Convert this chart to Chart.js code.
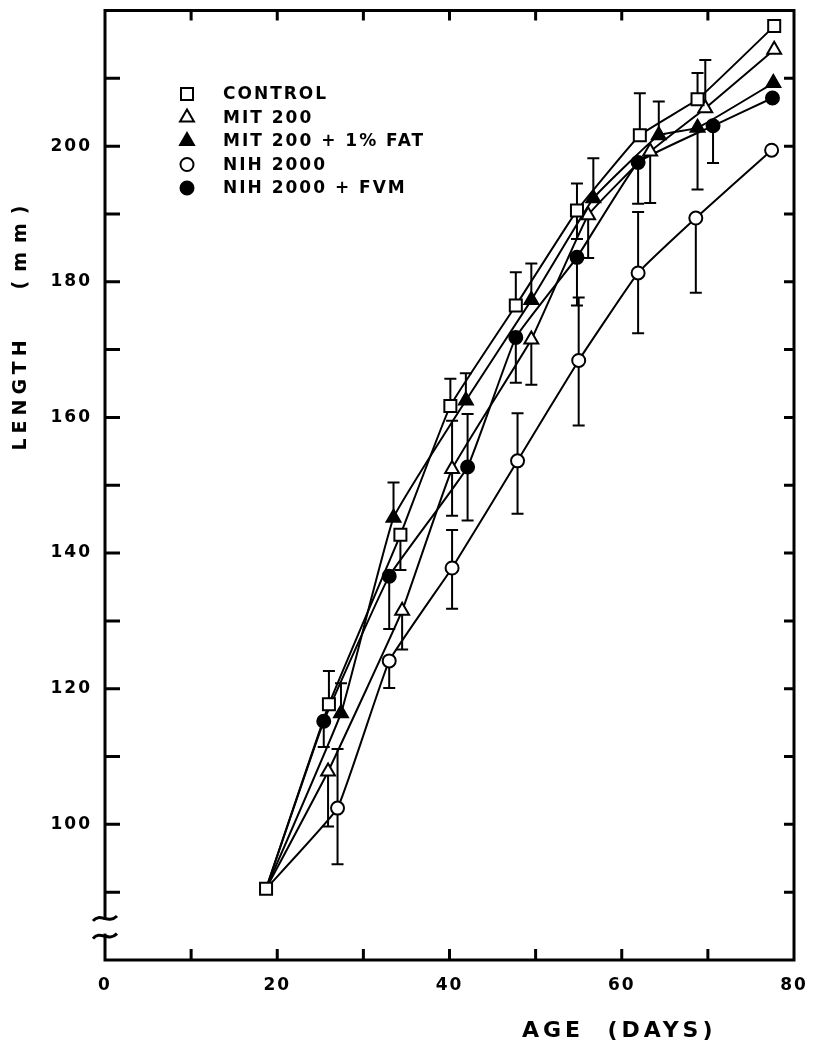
<!DOCTYPE html>
<html lang="en">
<head>
<meta charset="UTF-8">
<title>Length vs Age</title>
<style>
    html, body { margin: 0; padding: 0; background: #fff; }
    #chart { display: block; }
</style>
</head>
<body>
<canvas id="chart" width="813" height="1056"></canvas>
<script src="https://cdn.jsdelivr.net/npm/chart.js"></script>
<script>
// values: age (days), length (mm), error bar ends (mm)
var controlAge = [18.7, 26.0, 34.3, 40.1, 47.7, 54.8, 62.1, 68.8, 77.7];
var controlLen = [90.5, 117.7, 142.7, 161.7, 176.5, 190.5, 201.6, 206.9, 217.7];
var controlHi  = [null, 122.6, null, 165.7, 181.4, 194.5, 207.8, 210.8, null];
var controlLo  = [null, null, 137.5, null, null, 186.3, null, null, null];

var mitAge = [18.7, 25.9, 34.5, 40.3, 49.5, 56.1, 63.3, 69.7, 77.7];
var mitLen = [90.5, 107.8, 131.5, 152.4, 171.5, 189.8, 199.2, 205.6, 214.2];
var mitHi  = [null, null, null, 159.5, null, null, null, 212.7, null];
var mitLo  = [null, 99.7, 125.8, 145.5, 164.8, 183.5, 191.6, null, null];

var mitFatAge = [18.7, 27.4, 33.5, 41.9, 49.5, 56.7, 64.3, 68.8, 77.6];
var mitFatLen = [90.5, 116.4, 145.2, 162.5, 177.3, 192.3, 201.6, 202.7, 209.3];
var mitFatHi  = [null, 120.8, 150.4, 166.5, 182.7, 198.2, 206.6, null, null];
var mitFatLo  = [null, null, null, null, null, null, null, 193.6, null];

var nihAge = [18.7, 27.0, 33.0, 40.3, 47.9, 55.0, 61.9, 68.6, 77.4];
var nihLen = [90.5, 102.4, 124.1, 137.8, 153.6, 168.4, 181.3, 189.4, 199.4];
var nihHi  = [null, 111.1, null, 143.4, 160.6, 177.7, 190.3, null, null];
var nihLo  = [null, 94.1, 120.1, 131.8, 145.8, 158.8, 172.4, 178.4, null];

var fvmAge = [18.7, 25.4, 33.0, 42.1, 47.7, 54.8, 61.9, 70.6, 77.5];
var fvmLen = [90.5, 115.2, 136.6, 152.7, 171.8, 183.6, 197.6, 203.0, 207.1];
var fvmHi  = [null, null, null, 160.5, null, null, null, null, null];
var fvmLo  = [null, 111.4, 128.8, 144.8, 165.1, 176.5, 191.5, 197.5, null];

var legendLabels = ['CONTROL', 'MIT 200', 'MIT 200 + 1% FAT', 'NIH 2000', 'NIH 2000 + FVM'];
var xTickLabels = [0, 20, 40, 60, 80];
var yTickLabels = [100, 120, 140, 160, 180, 200];

var FONT = '"DejaVu Sans", "Liberation Sans", sans-serif';

var markers = [
    { style: 'rect', radius: 8.5, fill: '#fff' },
    { style: 'triangle', radius: 8, fill: '#fff' },
    { style: 'triangle', radius: 8, fill: '#000' },
    { style: 'circle', radius: 6.5, fill: '#fff' },
    { style: 'circle', radius: 6.5, fill: '#000' }
];

var errHi = [controlHi, mitHi, mitFatHi, nihHi, fvmHi];
var errLo = [controlLo, mitLo, mitFatLo, nihLo, fvmLo];

function makeSeries(i, ages, lens) {
    var m = markers[i];
    return {
        label: legendLabels[i],
        data: ages.map(function (a, k) { return { x: a, y: lens[k] }; }),
        borderColor: '#000',
        borderWidth: 2,
        tension: 0.1,
        pointStyle: m.style,
        pointRadius: function (ctx) { return (ctx.dataIndex === 0 && i !== 0) ? 0 : m.radius; },
        pointHoverRadius: m.radius,
        pointBackgroundColor: m.fill,
        pointBorderColor: '#000',
        pointBorderWidth: 2
    };
}

function drawMarker(ctx, m, x, y) {
    ctx.save();
    ctx.fillStyle = m.fill;
    ctx.strokeStyle = '#000';
    ctx.lineWidth = 2;
    ctx.beginPath();
    if (m.style === 'rect') {
        var s = m.radius * Math.SQRT1_2;
        ctx.rect(x - s, y - s, 2 * s, 2 * s);
    } else if (m.style === 'triangle') {
        for (var k = 0; k < 3; k++) {
            var a = k * 2 * Math.PI / 3;
            var px = x + Math.sin(a) * m.radius, py = y - Math.cos(a) * m.radius;
            if (k === 0) ctx.moveTo(px, py); else ctx.lineTo(px, py);
        }
        ctx.closePath();
    } else {
        ctx.arc(x, y, m.radius, 0, Math.PI * 2);
    }
    ctx.fill();
    ctx.stroke();
    ctx.restore();
}

function noPad(s) {
    s.paddingTop = 0; s.paddingBottom = 0; s.paddingLeft = 0; s.paddingRight = 0;
}

var spacing = {
    id: 'spacing',
    beforeDraw: function (chart) { chart.ctx.letterSpacing = '2px'; }
};

var errorBars = {
    id: 'errorBars',
    beforeDatasetsDraw: function (chart) {
        var ctx = chart.ctx, xs = chart.scales.x, ys = chart.scales.y;
        ctx.save();
        ctx.strokeStyle = '#000';
        ctx.lineWidth = 2;
        chart.data.datasets.forEach(function (ds, i) {
            ds.data.forEach(function (p, k) {
                var px = xs.getPixelForValue(p.x), py = ys.getPixelForValue(p.y);
                [errHi[i][k], errLo[i][k]].forEach(function (v) {
                    if (v === null) return;
                    var ey = ys.getPixelForValue(v);
                    ctx.beginPath();
                    ctx.moveTo(px, py);
                    ctx.lineTo(px, ey);
                    ctx.moveTo(px - 6, ey);
                    ctx.lineTo(px + 6, ey);
                    ctx.stroke();
                });
            });
        });
        ctx.restore();
    }
};

var frame = {
    id: 'frame',
    afterDraw: function (chart) {
        var ctx = chart.ctx, a = chart.chartArea, xs = chart.scales.x, ys = chart.scales.y;
        ctx.save();
        ctx.strokeStyle = '#000';
        ctx.lineWidth = 3;
        ctx.strokeRect(a.left, a.top, a.right - a.left, a.bottom - a.top);
        ctx.beginPath();
        for (var v = 10; v < 80; v += 10) {
            var x = xs.getPixelForValue(v);
            ctx.moveTo(x, a.bottom); ctx.lineTo(x, a.bottom - 11);
            ctx.moveTo(x, a.top); ctx.lineTo(x, a.top + 10);
        }
        for (var w = 90; w < 220; w += 10) {
            var y = ys.getPixelForValue(w);
            ctx.moveTo(a.left, y); ctx.lineTo(a.left + 15, y);
            ctx.moveTo(a.right, y); ctx.lineTo(a.right - 10, y);
        }
        ctx.stroke();

        // axis break on the left axis
        var b1 = ys.getPixelForValue(86.2), b2 = ys.getPixelForValue(83.6);
        ctx.fillStyle = '#fff';
        ctx.fillRect(a.left - 3, b1 + 2, 6, b2 - b1 - 4);
        [b1, b2].forEach(function (by) {
            ctx.beginPath();
            ctx.moveTo(a.left - 12, by + 3);
            ctx.bezierCurveTo(a.left - 5, by - 6, a.left + 3, by + 7, a.left + 12, by - 2);
            ctx.stroke();
        });

        // legend
        ctx.letterSpacing = '2px';
        ctx.fillStyle = '#000';
        ctx.font = 'bold 17px ' + FONT;
        ctx.textBaseline = 'middle';
        ctx.textAlign = 'left';
        legendLabels.forEach(function (lab, i) {
            var ly = 94 + i * 23.5;
            drawMarker(ctx, markers[i], 187, ly);
            ctx.fillText(lab, 223, ly + 1);
        });

        // axis titles
        ctx.font = 'bold 22px ' + FONT;
        ctx.letterSpacing = '4px';
        ctx.fillText('AGE  (DAYS)', 522, 1031);

        ctx.font = 'bold 19px ' + FONT;
        ctx.translate(21, 0);
        ctx.rotate(-Math.PI / 2);
        ctx.textAlign = 'center';
        ctx.letterSpacing = '5px';
        ctx.fillText('LENGTH', -393, 0);
        ctx.letterSpacing = '9px';
        ctx.fillText('(mm)', -243, 0);
        ctx.restore();
    }
};

var ctx = document.getElementById('chart').getContext('2d');
new Chart(ctx, {
    type: 'line',
    data: {
        datasets: [
            makeSeries(0, controlAge, controlLen),
            makeSeries(1, mitAge, mitLen),
            makeSeries(2, mitFatAge, mitFatLen),
            makeSeries(3, nihAge, nihLen),
            makeSeries(4, fvmAge, fvmLen)
        ]
    },
    options: {
        responsive: false,
        animation: false,
        layout: { padding: { top: 9, right: 19, left: 0, bottom: 0 } },
        plugins: { legend: { display: false }, tooltip: { enabled: false } },
        scales: {
            x: {
                type: 'linear',
                min: 0,
                max: 80,
                grid: { display: false },
                border: { display: false },
                ticks: {
                    stepSize: 10,
                    autoSkip: false,
                    maxRotation: 0,
                    padding: 7,
                    color: '#000',
                    font: { family: FONT, size: 17, weight: 'bold' },
                    callback: function (v) { return xTickLabels.indexOf(v) >= 0 ? String(v) : ''; }
                },
                afterFit: function (s) { s.height = 96; noPad(s); }
            },
            y: {
                min: 80,
                max: 220,
                grid: { display: false },
                border: { display: false },
                ticks: {
                    stepSize: 10,
                    autoSkip: false,
                    padding: 5,
                    color: '#000',
                    font: { family: FONT, size: 17, weight: 'bold' },
                    callback: function (v) { return yTickLabels.indexOf(v) >= 0 ? String(v) : ''; }
                },
                afterFit: function (s) { s.width = 105; noPad(s); }
            }
        }
    },
    plugins: [spacing, errorBars, frame]
});
</script>
</body>
</html>
